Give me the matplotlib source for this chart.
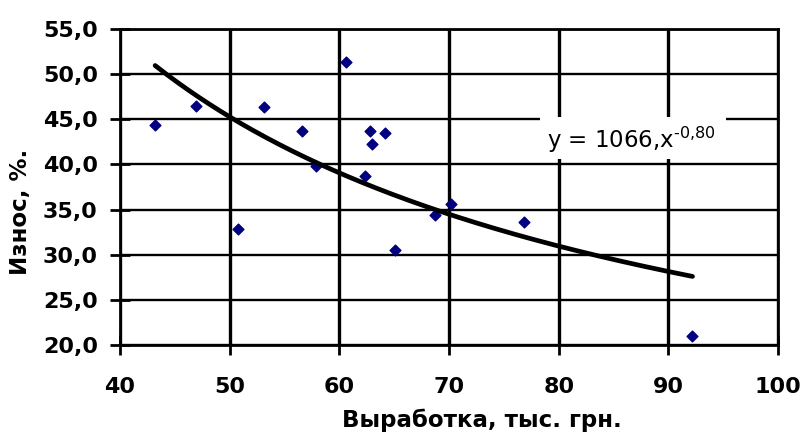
import matplotlib.pyplot as plt
import numpy as np
from matplotlib.patches import Rectangle
from matplotlib.ticker import FuncFormatter, MultipleLocator

# output per employee, thousand UAH
vyrabotka = [43.2, 46.9, 50.8, 53.1, 56.6, 57.9, 60.6, 62.3, 62.8, 63.0,
             64.2, 65.1, 68.7, 70.2, 76.8, 92.2]
# wear, %
iznos = [44.4, 46.5, 32.9, 46.4, 43.7, 39.8, 51.3, 38.7, 43.7, 42.3,
         43.45, 30.5, 34.4, 35.6, 33.6, 21.0]

eq_label = "y = 1066,x$^{\\text{-0,80}}$"

plt.rcParams['font.family'] = ['DejaVu Sans']
plt.rcParams['mathtext.fontset'] = 'custom'
plt.rcParams['mathtext.rm'] = 'DejaVu Sans'

x = np.array(vyrabotka)
y = np.array(iznos)

# power trend line (least squares in log-log, like Excel)
b, ln_a = np.polyfit(np.log(x), np.log(y), 1)
xt = np.linspace(x.min(), x.max(), 200)
yt = np.exp(ln_a) * xt ** b

fig = plt.figure(figsize=(8.06, 4.33), dpi=100)
ax = fig.add_axes([0.1489, 0.2032, 0.8164, 0.7298])

ax.grid(True, axis='x', color='black', linewidth=2.4)
ax.grid(True, axis='y', color='black', linewidth=1.7)
ax.set_axisbelow(True)

ax.scatter(x, y, marker='D', s=30, color='#000080', zorder=3)
ax.plot(xt, yt, color='black', linewidth=3.4, solid_capstyle='round', zorder=4)

# white label box of the trend equation
ax.add_patch(Rectangle((78.3, 40.6), 17.0, 4.6, facecolor='white',
                       edgecolor='none', zorder=1))
ax.text(78.9, 42.7, eq_label, fontsize=16.5, va='center', ha='left', zorder=5)

ax.set_xlim(40, 100)
ax.set_ylim(20, 55)
ax.xaxis.set_major_locator(MultipleLocator(10))
ax.yaxis.set_major_locator(MultipleLocator(5))
ax.yaxis.set_major_formatter(FuncFormatter(lambda v, p: f"{v:.1f}".replace('.', ',')))

ax.tick_params(direction='inout', length=14, width=2, labelsize=16)
ax.tick_params(axis='x', pad=16)
ax.tick_params(axis='y', pad=9)
for lab in ax.get_xticklabels() + ax.get_yticklabels():
    lab.set_fontweight('bold')
for sp in ax.spines.values():
    sp.set_linewidth(2)
    sp.set_color('black')

ax.set_xlabel("Выработка, тыс. грн.", fontsize=16.5, fontweight='bold')
ax.set_ylabel("Износ, %.", fontsize=16.5, fontweight='bold')
ax.xaxis.set_label_coords(0.55, -0.2025)
ax.yaxis.label.set_va('center')
ax.yaxis.set_label_coords(-0.1505, 0.4225)

fig.savefig("out.png", dpi=100)
